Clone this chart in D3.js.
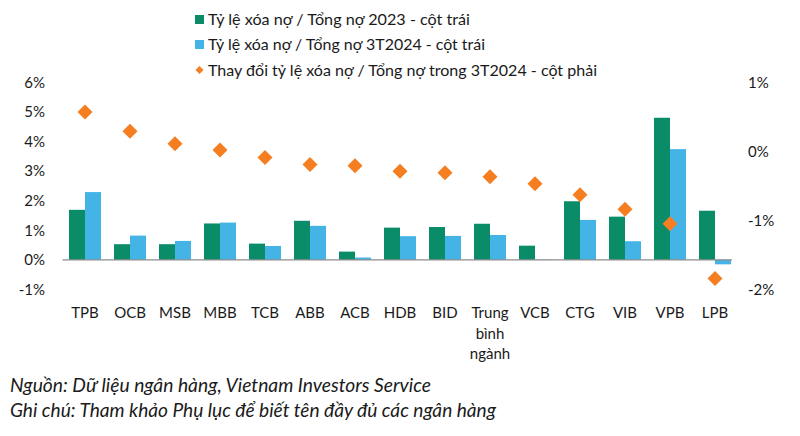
<!DOCTYPE html>
<html><head><meta charset="utf-8">
<script src="https://cdn.jsdelivr.net/npm/d3@7"></script>
<style>body{margin:0;background:#fff}svg{display:block}text{font-family:Lato,"Noto Sans",sans-serif;fill:#1a1a1a}</style>
</head><body><svg id="c" width="800" height="436"></svg>
<script>
const categories = ["TPB","OCB","MSB","MBB","TCB","ABB","ACB","HDB","BID","Trung bình ngành","VCB","CTG","VIB","VPB","LPB"];
const ratio2023 = [1.69,0.53,0.53,1.23,0.55,1.32,0.28,1.09,1.11,1.22,0.48,1.98,1.46,4.80,1.66];
const ratio3T2024 = [2.29,0.82,0.64,1.26,0.47,1.15,0.08,0.80,0.81,0.84,0.01,1.35,0.63,3.74,-0.15];
const change3T2024 = [0.57,0.29,0.11,0.02,-0.09,-0.19,-0.21,-0.29,-0.31,-0.37,-0.47,-0.63,-0.84,-1.05,-1.84];
const leftTicks = [-1,0,1,2,3,4,5,6];
const rightTicks = [-2,-1,0,1];
const seriesNames = ["Tỷ lệ xóa nợ / Tổng nợ 2023 - cột trái","Tỷ lệ xóa nợ / Tổng nợ 3T2024 - cột trái","Thay đổi tỷ lệ xóa nợ / Tổng nợ trong 3T2024 - cột phải"];
const footnotes = ["Nguồn: Dữ liệu ngân hàng, Vietnam Investors Service","Ghi chú: Tham khảo Phụ lục để biết tên đầy đủ các ngân hàng"];
const legendWidths = [262,277,389];
const footWidths = [421,486];

const GREEN="#0b8c69", BLUE="#44b4e6", ORANGE="#f47e20";
const svg=d3.select("#c");
const x=d3.scaleBand().domain(categories).range([62.5,737.5]).paddingInner(13/45).paddingOuter(13/90);
const xs=d3.scaleBand().domain(["a","b"]).range([0,x.bandwidth()]);
const yL=d3.scaleLinear().domain([-1,6]).range([289.5,82.2]);
const yR=d3.scaleLinear().domain([-2,1]).range([289.5,82.2]);

const gl=svg.append("g").attr("transform","translate(45,0)")
  .call(d3.axisLeft(yL).tickValues(leftTicks).tickSize(0).tickPadding(0).tickFormat(d=>d+"%"));
gl.select(".domain").remove();
gl.selectAll("text").attr("font-size",15).attr("font-family","Lato").attr("fill","#1a1a1a");
const gr=svg.append("g").attr("transform","translate(748,0)")
  .call(d3.axisRight(yR).tickValues(rightTicks).tickSize(0).tickPadding(0).tickFormat(d=>d+"%"));
gr.select(".domain").remove();
gr.selectAll("text").attr("font-size",15).attr("font-family","Lato").attr("fill","#1a1a1a");

const data=categories.map((c,i)=>({c,a:ratio2023[i],b:ratio3T2024[i],d:change3T2024[i]}));
const g=svg.append("g");
g.selectAll(".ba").data(data).join("rect")
  .attr("x",d=>x(d.c)+xs("a")).attr("width",xs.bandwidth())
  .attr("y",d=>yL(Math.max(0,d.a))).attr("height",d=>Math.abs(yL(d.a)-yL(0))).attr("fill",GREEN);
g.selectAll(".bb").data(data).join("rect")
  .attr("x",d=>x(d.c)+xs("b")).attr("width",xs.bandwidth())
  .attr("y",d=>yL(Math.max(0,d.b))).attr("height",d=>Math.abs(yL(d.b)-yL(0))).attr("fill",BLUE);

svg.append("line").attr("x1",62.5).attr("x2",732).attr("y1",yL(0)).attr("y2",yL(0))
  .attr("stroke","#8c8c8c").attr("stroke-width",1.2);

const dia=r=>`M0,${-r}L${r},0L0,${r}L${-r},0Z`;
g.selectAll(".dm").data(data).join("path")
  .attr("transform",d=>`translate(${x(d.c)+x.bandwidth()/2},${yR(d.d)})`)
  .attr("d",dia(7.5)).attr("fill",ORANGE);

const xl=svg.append("g");
data.forEach(d=>{
  const words=d.c.split(" ");
  const t=xl.append("text").attr("text-anchor","middle").attr("font-size",15)
    .attr("x",x(d.c)+x.bandwidth()/2).attr("y",318);
  words.forEach((w,i)=>t.append("tspan").attr("x",x(d.c)+x.bandwidth()/2).attr("dy",i?20.5:0).text(w));
});

// fit a group of texts to target widths with one font size
function fitGroup(sel, widths, base){
  let r=0; sel.each(function(_,i){ r+=widths[i]/this.getComputedTextLength(); });
  r/=sel.size();
  const fs=base*r;
  sel.attr("font-size",fs);
  sel.each(function(_,i){ d3.select(this).attr("textLength",widths[i]).attr("lengthAdjust","spacingAndGlyphs"); });
  return fs;
}

const lg=svg.append("g");
const ly=[19.5,44.5,70];
lg.append("rect").attr("x",195).attr("y",ly[0]-4.5).attr("width",9).attr("height",9).attr("fill",GREEN);
lg.append("rect").attr("x",195).attr("y",ly[1]-4.5).attr("width",9).attr("height",9).attr("fill",BLUE);
lg.append("path").attr("transform",`translate(199.5,${ly[2]})`).attr("d",dia(4)).attr("fill",ORANGE);
const lt=lg.selectAll(".lt").data(seriesNames).join("text").attr("class","lt")
  .attr("x",208).attr("y",(d,i)=>ly[i]).attr("dy","0.35em").attr("font-size",15).text(d=>d);
fitGroup(lt, legendWidths, 15);

const ft=svg.selectAll(".ft").data(footnotes).join("text").attr("class","ft")
  .attr("x",10).attr("y",(d,i)=>392+i*24.5).attr("font-size",16)
  .attr("font-style","italic").text(d=>d);
fitGroup(ft, footWidths, 16);
</script></body></html>
